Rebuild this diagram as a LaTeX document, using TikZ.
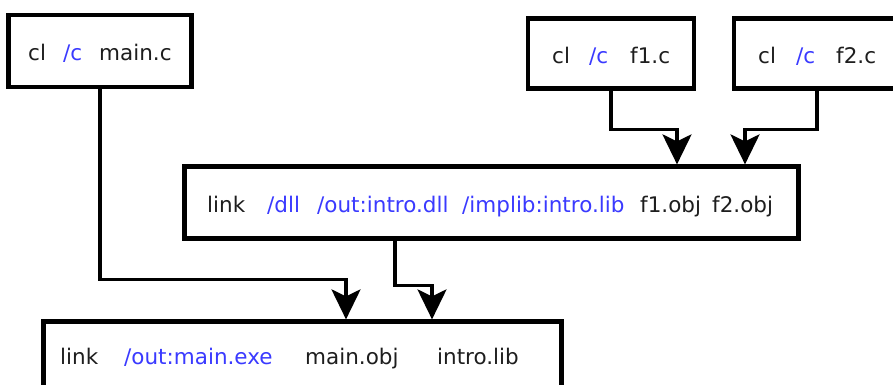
\documentclass[tikz,border=0pt]{standalone}
\usepackage{fontspec}
\setmainfont{DejaVu Sans}
\usetikzlibrary{arrows.meta}
\definecolor{txt}{RGB}{30,30,30}
\definecolor{opt}{RGB}{58,58,255}
\tikzset{
  box/.style={draw=black, line width=4.2pt, fill=white, inner sep=0pt},
  word/.style={anchor=base west, inner sep=0pt, text=txt, font=\fontsize{21.5}{25}\selectfont},
  flag/.style={word, text=opt},
  conn/.style={draw=black, line width=3.2pt,
    -{Stealth[length=30pt, width=29pt, inset=7pt]}},
}
\begin{document}
\begin{tikzpicture}[x=1pt, y=-1pt]
  \useasboundingbox (0,0) rectangle (893,385);
  \clip (0,0) rectangle (893,385);

  % compile steps
  \node[box, minimum width=183pt, minimum height=72pt] (mainc) at (100,51) {};
  \node[box, minimum width=166pt, minimum height=70pt] (fone) at (611,53.5) {};
  \node[box, minimum width=166pt, minimum height=70pt] (ftwo) at (817,53.5) {};

  % link steps
  \node[box, minimum width=614pt, minimum height=72pt] (dll) at (491.5,202.5) {};
  \node[box, minimum width=518pt, minimum height=72pt] (exe) at (302.5,357.5) {};

  % command lines
  \node[word] (c1a) at (28,61) {cl};
  \node[flag] (c1b) at (63,61) {/c};
  \node[word] (c1c) at (99,61) {main.c};

  \node[word] (c2a) at (552,64) {cl};
  \node[flag] (c2b) at (589,64) {/c};
  \node[word] (c2c) at (630,64) {f1.c};

  \node[word] (c3a) at (758,64) {cl};
  \node[flag] (c3b) at (796,64) {/c};
  \node[word] (c3c) at (836,64) {f2.c};

  \node[word] (l1a) at (207,212) {link};
  \node[flag] (l1b) at (267,212) {/dll};
  \node[flag] (l1c) at (317,212) {/out:intro.dll};
  \node[flag] (l1d) at (462,212) {/implib:intro.lib};
  \node[word] (l1e) at (640,212) {f1.obj};
  \node[word] (l1f) at (712,212) {f2.obj};

  \node[word] (l2a) at (60,364) {link};
  \node[flag] (l2b) at (124,364) {/out:main.exe};
  \node[word] (l2c) at (305,364) {main.obj};
  \node[word] (l2d) at (437,364) {intro.lib};

  % dependencies
  \draw[conn] (mainc.south) -- ++(0,190) -| ([xshift=43.5pt]exe.north);
  \draw[conn] ([xshift=-96.5pt]dll.south) -- ++(0,44.5) -| ([xshift=129.5pt]exe.north);
  \draw[conn] (fone.south) -- ++(0,38.5) -| ([xshift=185.5pt]dll.north);
  \draw[conn] (ftwo.south) -- ++(0,38.5) -| ([xshift=253.5pt]dll.north);
\end{tikzpicture}
\end{document}
